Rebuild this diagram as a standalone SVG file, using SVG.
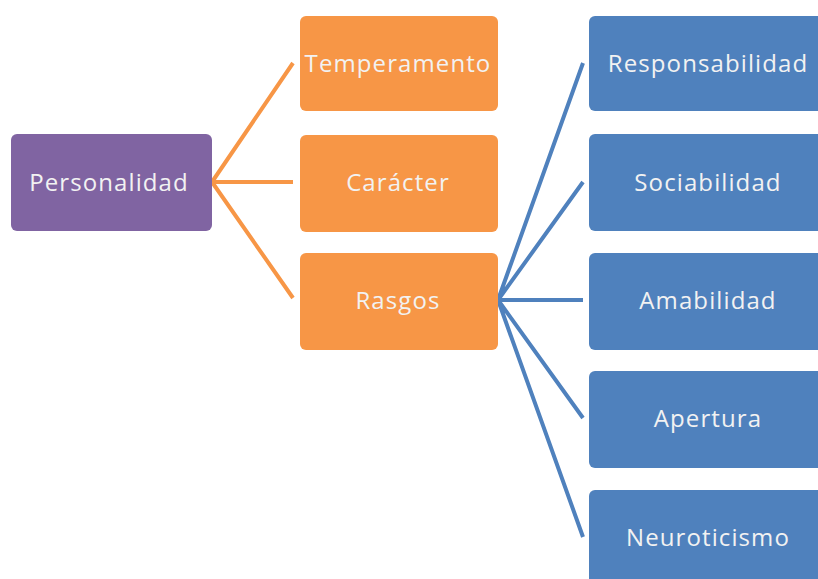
<svg xmlns="http://www.w3.org/2000/svg" width="818" height="579" viewBox="0 0 818 579">
<style>
.p{fill:#8064A2}
.o{fill:#F79646}
.b{fill:#4F81BD}
text{font-family:"Open Sans",Lato,sans-serif;font-size:24px;letter-spacing:1.1px;fill:#F2F2F2;text-anchor:middle}
.co{stroke:#F79646;stroke-width:4;fill:none}
.cb{stroke:#4F81BD;stroke-width:4;fill:none}
</style>
<rect width="818" height="579" fill="#FFFFFF"/>
<g id="connectors">
<path class="co" d="M212,182 L293,63 M212,182 L293,182 M212,182 L293,298"/>
<path class="cb" d="M498,300 L583,63 M498,300 L583,182 M498,300 L583,300 M498,300 L583,418 M498,300 L583,537"/>
</g>
<g id="personalidad"><rect class="p" x="11" y="134" width="201" height="97" rx="6"/><text x="109" y="191">Personalidad</text></g>
<g id="temperamento"><rect class="o" x="300" y="16" width="198" height="95" rx="6"/><text x="398" y="72">Temperamento</text></g>
<g id="caracter"><rect class="o" x="300" y="135" width="198" height="97" rx="6"/><text x="398" y="191">Carácter</text></g>
<g id="rasgos"><rect class="o" x="300" y="253" width="198" height="97" rx="6"/><text x="398" y="309">Rasgos</text></g>
<g id="responsabilidad"><rect class="b" x="589" y="16" width="240" height="95" rx="6"/><text x="708" y="72">Responsabilidad</text></g>
<g id="sociabilidad"><rect class="b" x="589" y="134" width="240" height="97" rx="6"/><text x="708" y="191">Sociabilidad</text></g>
<g id="amabilidad"><rect class="b" x="589" y="253" width="240" height="97" rx="6"/><text x="708" y="309">Amabilidad</text></g>
<g id="apertura"><rect class="b" x="589" y="371" width="240" height="97" rx="6"/><text x="708" y="427">Apertura</text></g>
<g id="neuroticismo"><rect class="b" x="589" y="490" width="240" height="97" rx="6"/><text x="708" y="546">Neuroticismo</text></g>
</svg>
